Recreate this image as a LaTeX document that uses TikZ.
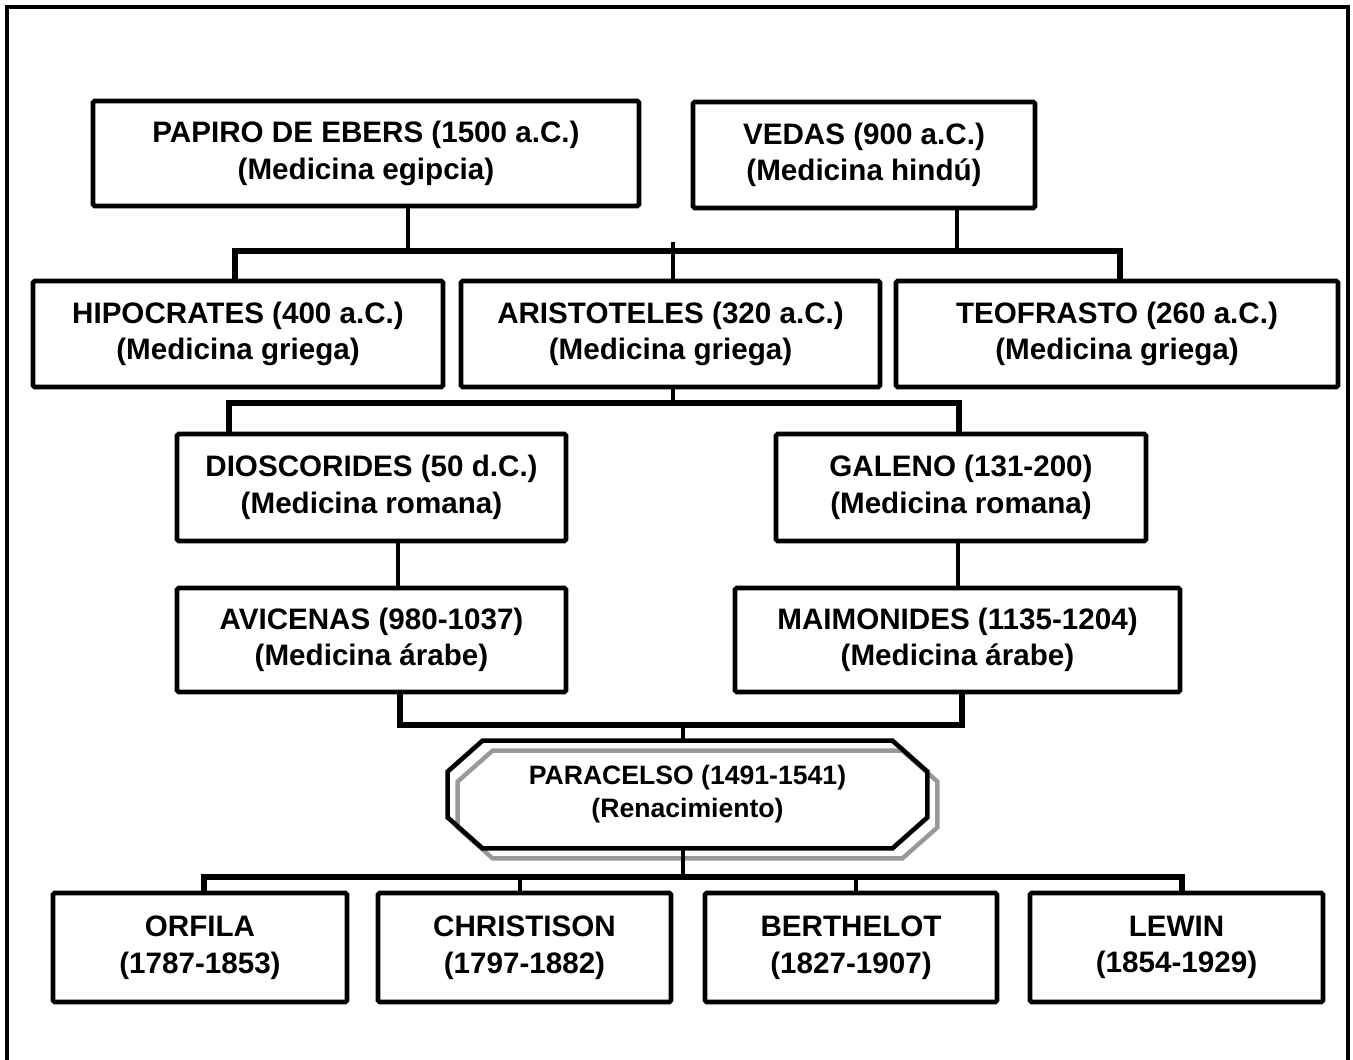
\documentclass[tikz,border=0pt]{standalone}
\usepackage{fontspec}
\setmainfont{Liberation Sans}
\begin{document}
\begin{tikzpicture}[x=0.5pt,y=-0.5pt,
  box/.style={draw, line width=2.3pt, rounded corners=0.8pt, fill=white,
    align=center, inner sep=0pt, font=\fontsize{14.8}{18.3}\selectfont\bfseries},
  link/.style={line width=2.3pt},
  bar/.style={line width=2.8pt, line join=miter},
  octline/.style={line width=2.3pt, line join=miter},
  shadowline/.style={line width=2.2pt, line join=miter, draw=shadowgray}]
\definecolor{shadowgray}{gray}{0.6}
\useasboundingbox (0,0) rectangle (1353,1059);
\clip (0,0) rectangle (1353,1059);

% outer frame, open at the bottom
\draw[line width=2.2pt] (7,1080) -- (7,7) -- (1348,7) -- (1348,1080);

% sources
\node[box, minimum width=273pt, minimum height=52.5pt] (papiro) at (366,153.5)
  {PAPIRO DE EBERS (1500 a.C.)\\(Medicina egipcia)};
\node[box, minimum width=171pt, minimum height=53pt] (vedas) at (864,155)
  {VEDAS (900 a.C.)\\(Medicina hindú)};

% greek medicine
\node[box, minimum width=205pt, minimum height=53pt] (hipo) at (238,334)
  {HIPOCRATES (400 a.C.)\\(Medicina griega)};
\node[box, minimum width=209.5pt, minimum height=53pt] (aris) at (670.5,334)
  {ARISTOTELES (320 a.C.)\\(Medicina griega)};
\node[box, minimum width=221pt, minimum height=53pt] (teo) at (1117,334)
  {TEOFRASTO (260 a.C.)\\(Medicina griega)};

% roman medicine
\node[box, minimum width=194.5pt, minimum height=53.5pt] (dios) at (371.5,487.5)
  {DIOSCORIDES (50 d.C.)\\(Medicina romana)};
\node[box, minimum width=185pt, minimum height=53.5pt] (galeno) at (961,487.5)
  {GALENO (131-200)\\(Medicina romana)};

% arab medicine
\node[box, minimum width=194.5pt, minimum height=52pt] (avic) at (371.5,640)
  {AVICENAS (980-1037)\\(Medicina árabe)};
\node[box, minimum width=222.5pt, minimum height=52pt] (maim) at (957.5,640)
  {MAIMONIDES (1135-1204)\\(Medicina árabe)};

% renaissance
\node[minimum width=239.5pt, minimum height=53.5pt, inner sep=0pt, align=center,
  font=\fontsize{13.3}{16.5}\selectfont\bfseries] (para) at (687.5,794.5)
  {PARACELSO (1491-1541)\\(Renacimiento)};
\newcommand{\chamferoutline}[3]{%
  \draw[#1]
    ([xshift=17.5pt+#2,yshift=#3]para.north west) --
    ([xshift=-17.5pt+#2,yshift=#3]para.north east) --
    ([xshift=#2,yshift=-15.5pt+#3]para.north east) --
    ([xshift=#2,yshift=15.5pt+#3]para.south east) --
    ([xshift=-17.5pt+#2,yshift=#3]para.south east) --
    ([xshift=17.5pt+#2,yshift=#3]para.south west) --
    ([xshift=#2,yshift=15.5pt+#3]para.south west) --
    ([xshift=#2,yshift=-15.5pt+#3]para.north west) -- cycle;}
\chamferoutline{shadowline}{5pt}{-5pt}
\chamferoutline{octline}{0pt}{0pt}

% modern toxicology
\node[box, minimum width=147pt, minimum height=54.5pt] (orfila) at (200,947.5)
  {ORFILA\\(1787-1853)};
\node[box, minimum width=146.5pt, minimum height=54.5pt] (chris) at (524.5,947.5)
  {CHRISTISON\\(1797-1882)};
\node[box, minimum width=146pt, minimum height=54.5pt] (bert) at (851,947.5)
  {BERTHELOT\\(1827-1907)};
\node[box, minimum width=146.5pt, minimum height=54.5pt] (lewin) at (1176.5,947.5)
  {LEWIN\\(1854-1929)};

% junction points
\coordinate (ta) at (408,251);
\coordinate (tb) at (957,251);
\coordinate (tl) at (235,251);
\coordinate (tr) at (1120,251);
\coordinate (tm) at (673,242);
\coordinate (ma) at (229,403);
\coordinate (mb) at (959,403);
\coordinate (mm) at (673,403);
\coordinate (sa) at (398,560);
\coordinate (sb) at (958,560);
\coordinate (ba) at (400,725);
\coordinate (bb) at (962,725);
\coordinate (bm) at (683,725);
\coordinate (q0) at (683,877);
\coordinate (q1) at (204,877);
\coordinate (q2) at (520,877);
\coordinate (q3) at (856,877);
\coordinate (q4) at (1182,877);

% connectors
\draw[link] (ta |- papiro.south) -- (ta);
\draw[link] (tb |- vedas.south) -- (tb);
\draw[bar] (tl |- hipo.north) -- (tl) -- (tr) -- (tr |- teo.north);
\draw[link] (tm) -- (tm |- aris.north);

\draw[link] (mm |- aris.south) -- (mm);
\draw[bar] (ma |- dios.north) -- (ma) -- (mb) -- (mb |- galeno.north);

\draw[link] (sa |- dios.south) -- (sa |- avic.north);
\draw[link] (sb |- galeno.south) -- (sb |- maim.north);

\draw[bar] (ba |- avic.south) -- (ba) -- (bb) -- (bb |- maim.south);
\draw[link] (bm) -- (bm |- para.north);

\draw[link] (q0 |- para.south) -- (q0);
\draw[bar] (q1 |- orfila.north) -- (q1) -- (q4) -- (q4 |- lewin.north);
\draw[link] (q2) -- (q2 |- chris.north);
\draw[link] (q3) -- (q3 |- bert.north);
\end{tikzpicture}
\end{document}
